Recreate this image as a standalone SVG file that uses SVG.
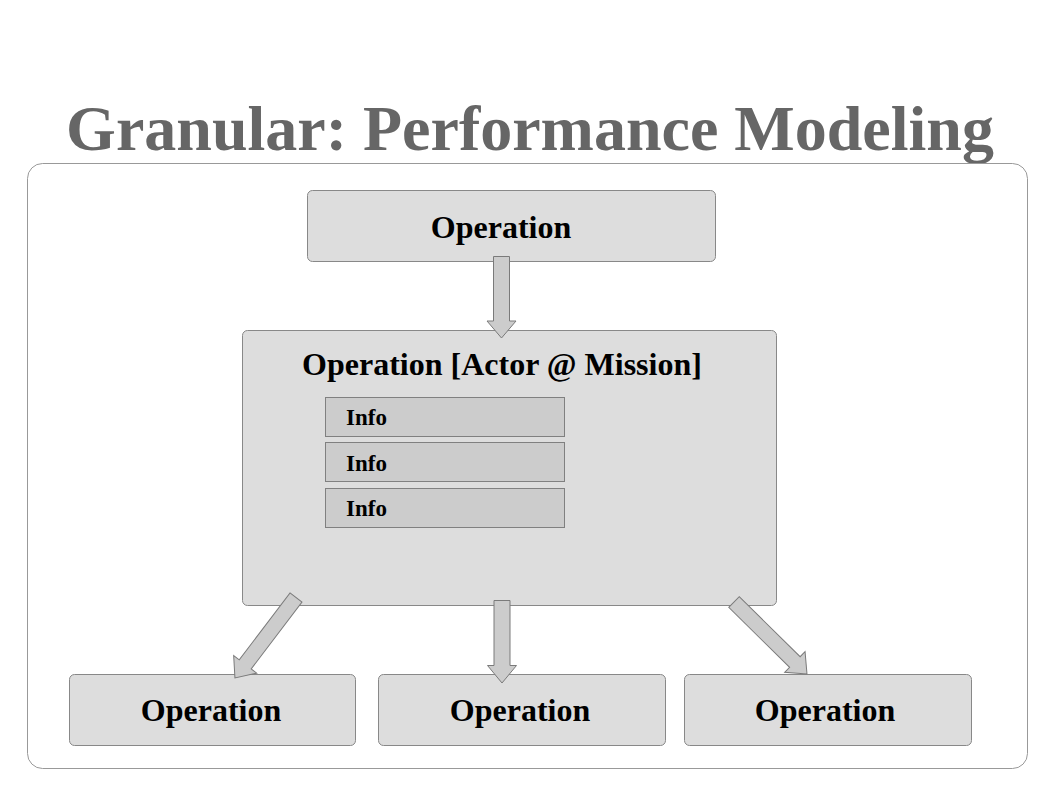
<svg xmlns="http://www.w3.org/2000/svg" width="1058" height="794" viewBox="0 0 1058 794">
  <defs>
    <style>
      .box { fill: #dddddd; stroke: #888888; stroke-width: 1; }
      .info { fill: #cccccc; stroke: #808080; stroke-width: 1; }
      .arrow { fill: #cccccc; stroke: #7a7a7a; stroke-width: 1; stroke-linejoin: miter; }
      .lbl { font-family: "Liberation Serif", "Times New Roman", serif; font-weight: bold; fill: #000000; }
      .big { font-size: 32px; text-anchor: middle; }
      .small { font-size: 23px; }
    </style>
  </defs>
  <rect width="1058" height="794" fill="#ffffff"/>
  <text x="530" y="150" text-anchor="middle" font-family="'Liberation Serif', 'Times New Roman', serif" font-weight="bold" font-size="64" fill="#666666">Granular: Performance Modeling</text>
  <rect x="27.5" y="163.5" width="1000" height="605" rx="15" ry="15" fill="#ffffff" stroke="#999999" stroke-width="1"/>

  <g id="node-top">
    <rect class="box" x="307.5" y="190.5" width="408" height="71" rx="5" ry="5"/>
    <text class="lbl big" x="501" y="237.5">Operation</text>
  </g>

  <g id="node-main">
    <rect class="box" x="242.5" y="330.5" width="534" height="275" rx="5" ry="5"/>
    <text class="lbl big" x="502" y="374.5">Operation [Actor @ Mission]</text>
    <g id="info-1">
      <rect class="info" x="325.5" y="397.5" width="239" height="39"/>
      <text class="lbl small" x="346" y="425">Info</text>
    </g>
    <g id="info-2">
      <rect class="info" x="325.5" y="442.5" width="239" height="39"/>
      <text class="lbl small" x="346" y="470.5">Info</text>
    </g>
    <g id="info-3">
      <rect class="info" x="325.5" y="488.5" width="239" height="39"/>
      <text class="lbl small" x="346" y="516">Info</text>
    </g>
  </g>

  <g id="node-left">
    <rect class="box" x="69.5" y="674.5" width="286" height="71" rx="5" ry="5"/>
    <text class="lbl big" x="211" y="721">Operation</text>
  </g>
  <g id="node-center">
    <rect class="box" x="378.5" y="674.5" width="287" height="71" rx="5" ry="5"/>
    <text class="lbl big" x="520" y="721">Operation</text>
  </g>
  <g id="node-right">
    <rect class="box" x="684.5" y="674.5" width="287" height="71" rx="5" ry="5"/>
    <text class="lbl big" x="825" y="721">Operation</text>
  </g>

  <g id="connectors">
    <polygon class="arrow" points="493.5,256.5 509.5,256.5 509.5,321 516,321 501.5,338 487,321 493.5,321"/>
    <polygon class="arrow" points="494,600.5 510,600.5 510,665.5 516.5,665.5 502,683 487.5,665.5 494,665.5"/>
    <polygon class="arrow" transform="translate(296,597.5) rotate(37.2)" points="-7.5,0 7.5,0 7.5,84 14.5,84 0,101 -14.5,84 -7.5,84"/>
    <polygon class="arrow" transform="translate(734,602) rotate(-45.4)" points="-7.5,0 7.5,0 7.5,85.5 14.5,85.5 0,102.5 -14.5,85.5 -7.5,85.5"/>
  </g>
</svg>
